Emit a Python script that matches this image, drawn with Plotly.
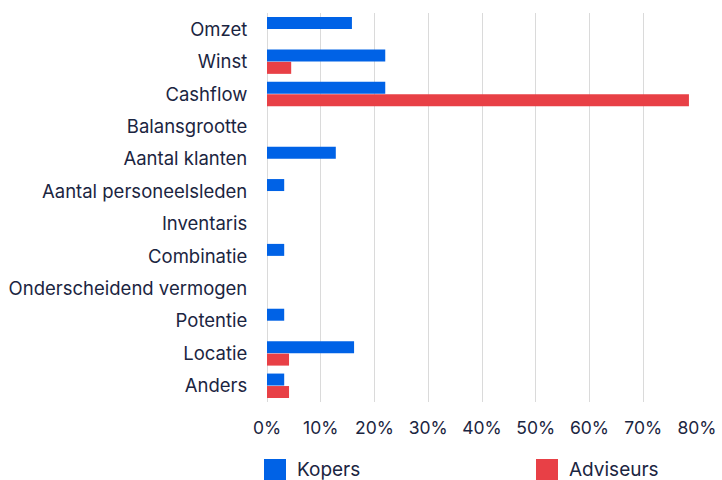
import plotly.graph_objects as go

categories = ["Omzet", "Winst", "Cashflow", "Balansgrootte", "Aantal klanten",
              "Aantal personeelsleden", "Inventaris", "Combinatie",
              "Onderscheidend vermogen", "Potentie", "Locatie", "Anders"]
kopers = [15.8, 22.0, 22.0, 0, 12.8, 3.2, 0, 3.2, 0, 3.2, 16.2, 3.2]
adviseurs = [0, 4.5, 78.5, 0, 0, 0, 0, 0, 0, 0, 4.1, 4.1]
tick_vals = [0, 10, 20, 30, 40, 50, 60, 70, 80]
tick_text = [f"{v}%" for v in tick_vals]

BLUE = "#0062E6"
RED = "#E84046"
TEXT = "#1B2541"
FONT = "Inter"

L, R, T, B = 267, 25, 13, 78
W, H = 722, 480
PW, PH = W - L - R, H - T - B

fig = go.Figure()
fig.add_trace(go.Bar(y=categories, x=kopers, name="Kopers", orientation="h",
                     marker=dict(color=BLUE, line=dict(width=0))))
fig.add_trace(go.Bar(y=categories, x=adviseurs, name="Adviseurs", orientation="h",
                     marker=dict(color=RED, line=dict(width=0))))

fig.update_layout(
    width=W, height=H,
    margin=dict(l=L, r=R, t=T, b=B, autoexpand=False),
    barmode="group", bargap=0.23, bargroupgap=0.04,
    plot_bgcolor="white", paper_bgcolor="white",
    font=dict(family=FONT, size=18, color=TEXT),
    showlegend=False,
    xaxis=dict(range=[0, 80], tickvals=tick_vals, ticktext=tick_text, automargin=False,
               showgrid=True, gridcolor="#DADADA", gridwidth=1.3,
               zeroline=True, zerolinecolor="#DADADA", zerolinewidth=1.3,
               showline=False, ticks="outside", ticklen=10, tickcolor="rgba(0,0,0,0)",
               tickfont=dict(size=17.5, color=TEXT)),
    yaxis=dict(categoryorder="array", categoryarray=categories, autorange="reversed",
               automargin=False, showgrid=False, zeroline=False, showline=False,
               ticks="outside", ticklen=15, tickcolor="rgba(0,0,0,0)",
               tickfont=dict(size=18.5, color=TEXT)),
)

# Legend drawn as coloured squares with labels below the axis
legend_items = [("Kopers", BLUE, 264), ("Adviseurs", RED, 536)]
for label, color, x0 in legend_items:
    fig.add_shape(type="rect", xref="paper", yref="paper",
                  x0=(x0 - L) / PW, x1=(x0 + 22 - L) / PW,
                  y0=(H - B - 480) / PH, y1=(H - B - 459) / PH,
                  fillcolor=color, line=dict(width=0))
    fig.add_annotation(xref="paper", yref="paper", x=(x0 + 31 - L) / PW,
                       y=(H - B - 469.5) / PH, text=label, showarrow=False,
                       xanchor="left", yanchor="middle",
                       font=dict(family=FONT, size=19, color=TEXT))

fig.write_html("out.html")
